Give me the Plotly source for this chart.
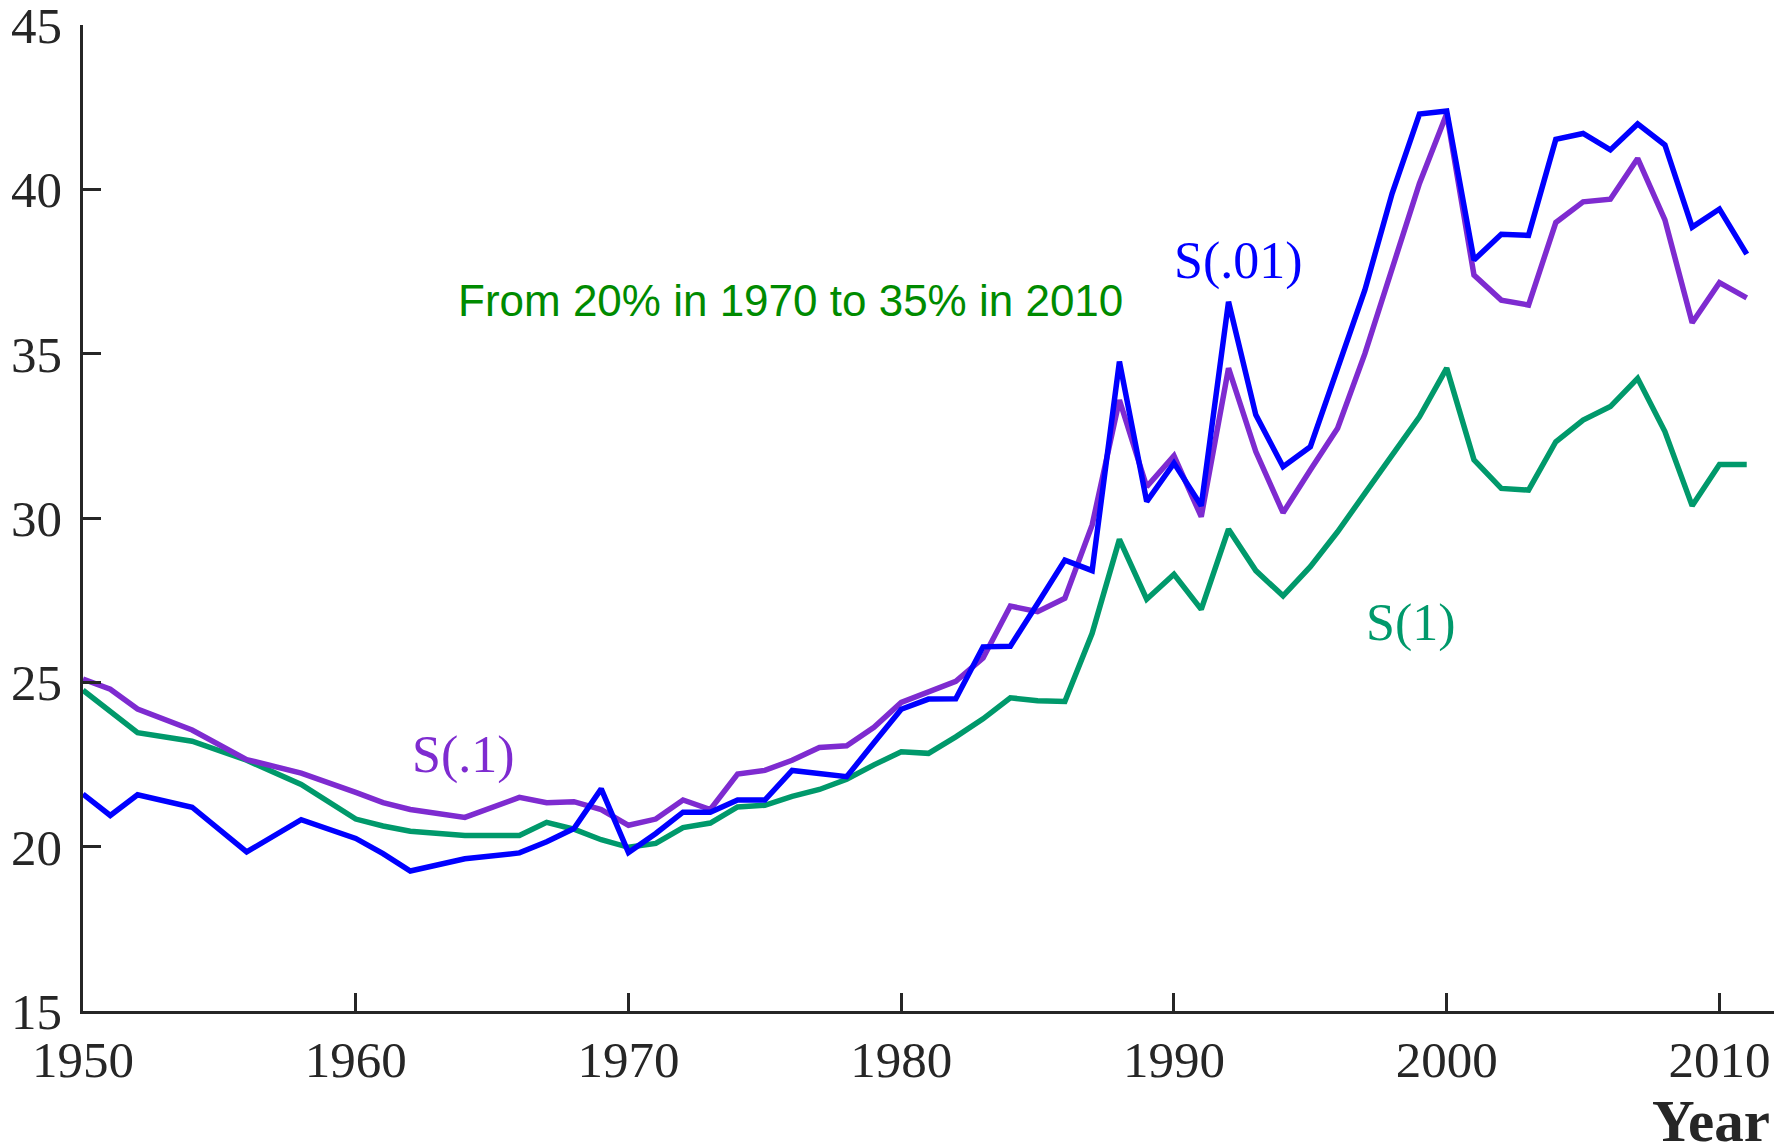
import plotly.graph_objects as go

years = [1950, 1951, 1952, 1954, 1956, 1958, 1960, 1961, 1962, 1964, 1966,
         1967, 1968, 1969, 1970, 1971, 1972, 1973, 1974, 1975, 1976, 1977,
         1978, 1979, 1980, 1981, 1982, 1983, 1984, 1985, 1986, 1987, 1988,
         1989, 1990, 1991, 1992, 1993, 1994, 1995, 1996, 1997, 1998, 1999,
         2000, 2001, 2002, 2003, 2004, 2005, 2006, 2007, 2008, 2009, 2010, 2011]

s_001 = [21.6, 20.95, 21.58, 21.2, 19.84, 20.82, 20.25, 19.79, 19.26, 19.63, 19.81,
         20.15, 20.55, 21.76, 19.82, 20.4, 21.05, 21.05, 21.42, 21.42, 22.32, 22.24,
         22.13, 23.16, 24.18, 24.49, 24.5, 26.08, 26.1, 27.4, 28.72, 28.4, 34.76,
         30.5, 31.67, 30.37, 36.58, 33.14, 31.56, 32.17, 34.56, 36.94, 39.88, 42.29,
         42.38, 37.85, 38.63, 38.6, 41.52, 41.7, 41.2, 41.99, 41.35, 38.85, 39.4, 38.03]

s_01 = [25.1, 24.79, 24.19, 23.55, 22.65, 22.24, 21.65, 21.34, 21.13, 20.89, 21.5,
        21.34, 21.37, 21.13, 20.65, 20.84, 21.42, 21.13, 22.21, 22.32, 22.63, 23.02,
        23.07, 23.63, 24.39, 24.72, 25.03, 25.74, 27.32, 27.15, 27.56, 29.79, 33.59,
        30.95, 31.89, 30.04, 34.56, 32.02, 30.16, 31.46, 32.73, 35.0, 37.6, 40.18,
        42.3, 37.39, 36.63, 36.48, 38.99, 39.62, 39.7, 40.94, 39.07, 35.94, 37.16, 36.7]

s_1 = [24.76, 24.12, 23.47, 23.21, 22.63, 21.89, 20.84, 20.63, 20.47, 20.34, 20.34,
       20.74, 20.53, 20.21, 19.98, 20.1, 20.58, 20.72, 21.21, 21.26, 21.53, 21.74,
       22.05, 22.49, 22.89, 22.84, 23.34, 23.89, 24.53, 24.44, 24.42, 26.49, 29.35,
       27.53, 28.29, 27.22, 29.66, 28.4, 27.63, 28.52, 29.58, 30.75, 31.92, 33.08,
       34.56, 31.77, 30.9, 30.85, 32.32, 32.98, 33.39, 34.25, 32.63, 30.37, 31.63, 31.63]

x_ticks = [1950, 1960, 1970, 1980, 1990, 2000, 2010]
y_ticks = [15, 20, 25, 30, 35, 40, 45]

BLUE = "#0000FF"
PURPLE = "#7E2BD0"
GREEN = "#00996B"
TEXT_GREEN = "#008B00"
AX = "#262626"
SERIF = "Liberation Serif, Times New Roman, serif"
SANS = "Liberation Sans, Arial, sans-serif"

fig = go.Figure()
for vals, col in [(s_1, GREEN), (s_01, PURPLE), (s_001, BLUE)]:
    fig.add_trace(go.Scatter(x=years, y=vals, mode="lines",
                             line=dict(color=col, width=5.5), showlegend=False,
                             hoverinfo="skip", cliponaxis=False))

annots = [
    dict(x=1975.94, y=36.61, text="From 20% in 1970 to 35% in 2010",
         font=dict(family=SANS, size=44, color=TEXT_GREEN)),
    dict(x=1992.37, y=37.83, text="S(.01)", font=dict(family=SERIF, size=52, color=BLUE)),
    dict(x=1963.94, y=22.79, text="S(.1)", font=dict(family=SERIF, size=52, color=PURPLE)),
    dict(x=1998.68, y=26.80, text="S(1)", font=dict(family=SERIF, size=52, color=GREEN)),
]
for a in annots:
    fig.add_annotation(xref="x", yref="y", showarrow=False,
                       xanchor="center", yanchor="middle", **a)

fig.add_annotation(xref="paper", yref="paper", x=0.9988, y=-0.1115,
                   xanchor="right", yanchor="middle", showarrow=False,
                   text="<b>Year</b>", font=dict(family=SERIF, size=59, color=AX))

fig.update_layout(
    width=1788, height=1145,
    margin=dict(l=83, r=14, t=25, b=134, autoexpand=False),
    paper_bgcolor="white", plot_bgcolor="white",
    xaxis=dict(range=[1950, 2012], tickvals=x_ticks, ticks="inside", ticklen=18,
               tickwidth=2.5, tickcolor=AX, showline=True, linecolor=AX, linewidth=2.5,
               showgrid=False, zeroline=False, ticklabelstandoff=2,
               ticklabeloverflow="allow", automargin=False,
               tickfont=dict(family=SERIF, size=51, color=AX)),
    yaxis=dict(range=[15, 45], tickvals=y_ticks, ticks="inside", ticklen=18,
               tickwidth=2.5, tickcolor=AX, showline=True, linecolor=AX, linewidth=2.5,
               showgrid=False, zeroline=False, ticklabelstandoff=8,
               ticklabeloverflow="allow", automargin=False,
               tickfont=dict(family=SERIF, size=51, color=AX)),
)

fig.write_html("out.html", config={"displayModeBar": False},
               post_script="document.body.style.margin='0';document.body.style.padding='0';")
